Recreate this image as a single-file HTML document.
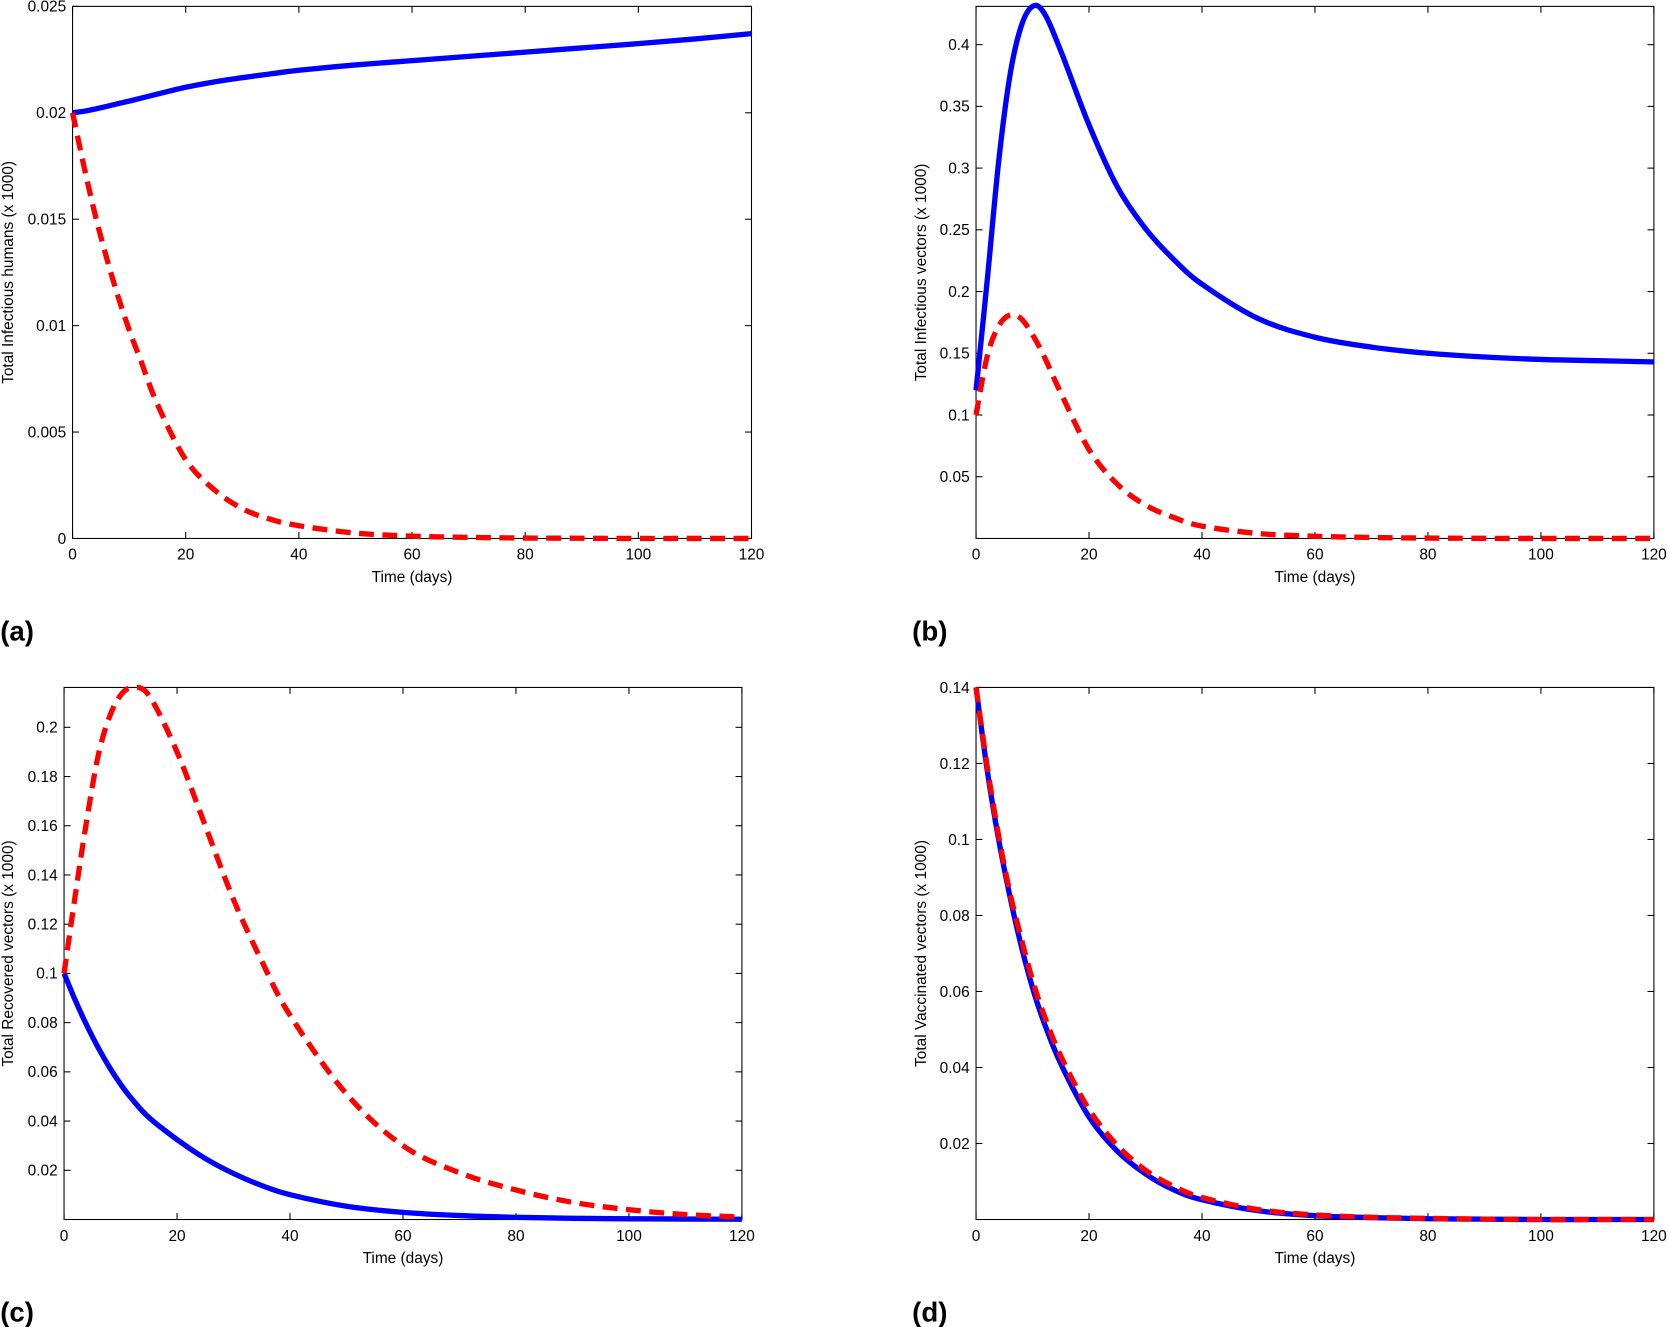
<!DOCTYPE html>
<html><head><meta charset="utf-8"><style>
html,body{margin:0;padding:0;background:#fff}
svg{display:block}
text{font-family:"Liberation Sans",Arial,sans-serif;fill:#000}
</style></head><body>
<svg id="fig" width="1669" height="1327" viewBox="0 0 1568 1247" xmlns="http://www.w3.org/2000/svg"></svg>
<script>
const T = [0,2,4,6,8,10,12,15,20,25,30,35,40,50,60,70,80,90,100,110,120];
const aBlue = [0.02,0.02007,0.02018,0.0203,0.02043,0.02055,0.02068,0.02088,0.0212,0.02145,0.02165,0.02183,0.022,0.02225,0.02245,0.02265,0.02285,0.02305,0.02325,0.02347,0.02372];
const aRed  = [0.02,0.0175,0.0152,0.0132,0.0114,0.0098,0.0084,0.0063,0.0037,0.0023,0.0014,0.0009,0.0006,0.00025,0.00011,0.00005,0.00002,0.00001,0,0,0];
const bBlue = [0.12,0.21,0.305,0.375,0.415,0.431,0.426,0.395,0.335,0.285,0.251,0.226,0.206,0.178,0.163,0.155,0.15,0.147,0.145,0.144,0.143];
const bRed  = [0.1,0.148,0.172,0.181,0.178,0.165,0.148,0.118,0.072,0.044,0.027,0.017,0.010,0.004,0.0018,0.0008,0.0003,0.0001,0,0,0];
const cBlue = [0.1,0.089,0.079,0.07,0.062,0.055,0.049,0.0415,0.0325,0.0248,0.0187,0.0138,0.0101,0.0054,0.0029,0.0016,0.0009,0.0005,0.0003,0.0002,0.0001];
const cRed  = [0.1,0.132,0.162,0.188,0.204,0.213,0.216,0.213,0.19,0.16,0.13,0.105,0.083,0.051,0.03,0.019,0.012,0.007,0.004,0.002,0.001];
const dBlue = [0.14,0.118,0.1,0.085,0.072,0.061,0.052,0.041,0.027,0.018,0.012,0.0078,0.0052,0.0023,0.001,0.0005,0.0002,0.0001,0,0,0];
const dRed  = [0.14,0.119,0.101,0.086,0.074,0.063,0.054,0.043,0.029,0.0195,0.013,0.0087,0.0058,0.0026,0.0012,0.0006,0.0003,0.0001,0,0,0];
const xTicks = [0,20,40,60,80,100,120];
const aTicks = [0,0.005,0.01,0.015,0.02,0.025];
const bTicks = [0.05,0.1,0.15,0.2,0.25,0.3,0.35,0.4];
const cTicks = [0.02,0.04,0.06,0.08,0.1,0.12,0.14,0.16,0.18,0.2];
const dTicks = [0.02,0.04,0.06,0.08,0.1,0.12,0.14];

const NS="http://www.w3.org/2000/svg", svg=document.getElementById('fig');
function el(tag,attrs,parent){const e=document.createElementNS(NS,tag);for(const k in attrs)e.setAttribute(k,attrs[k]);(parent||svg).appendChild(e);return e;}
function catmull(pts){let d='M'+pts[0][0]+','+pts[0][1];for(let i=0;i<pts.length-1;i++){const p0=pts[Math.max(0,i-1)],p1=pts[i],p2=pts[i+1],p3=pts[Math.min(pts.length-1,i+2)];
d+=' C'+(p1[0]+(p2[0]-p0[0])/6)+','+(p1[1]+(p2[1]-p0[1])/6)+' '+(p2[0]-(p3[0]-p1[0])/6)+','+(p2[1]-(p3[1]-p1[1])/6)+' '+p2[0]+','+p2[1];}return d;}

function panel(id,x0,x1,y0,y1,ymax,yTicks,ylabel,blue,red){
  const g=el('g',{});
  
  
  const sx=t=>x0+(t/120)*(x1-x0), sy=v=>y1-(v/ymax)*(y1-y0);
  el('rect',{x:x0,y:y0,width:x1-x0,height:y1-y0,fill:'none',stroke:'#000','stroke-width':1},g);
  xTicks.forEach(t=>{const x=sx(t);
    el('line',{x1:x,x2:x,y1:y1,y2:y1-6,stroke:'#000'},g);el('line',{x1:x,x2:x,y1:y0,y2:y0+6,stroke:'#000'},g);
    const tx=el('text',{x:x,y:y1+20,'font-size':14.5,'text-anchor':'middle'},g);tx.textContent=t;
    });
  yTicks.forEach(v=>{const y=sy(v);
    el('line',{x1:x0,x2:x0+6,y1:y,y2:y,stroke:'#000'},g);el('line',{x1:x1,x2:x1-6,y1:y,y2:y,stroke:'#000'},g);
    const tx=el('text',{x:x0-6,y:y+5,'font-size':14.5,'text-anchor':'end'},g);tx.textContent=v;
    });
  const xl=el('text',{x:(x0+x1)/2,y:y1+41,'font-size':14.5,'text-anchor':'middle'},g);xl.textContent='Time (days)';
  
  const lx=(id==='a'||id==='c')?12:870;
  const yl=el('text',{x:0,y:0,'font-size':14.5,'text-anchor':'middle',transform:'translate('+lx+','+(y0+y1)/2+') rotate(-90)'},g);yl.textContent=ylabel;
  
  const pl=el('text',{x:(id==='a'||id==='c')?0:857,y:y1+96,'font-size':26,'font-weight':'bold'},g);pl.textContent='('+id+')';
  
  const bp=T.map((t,i)=>[sx(t),sy(blue[i])]), rp=T.map((t,i)=>[sx(t),sy(red[i])]);
  const b=el('path',{d:catmull(bp),fill:'none',stroke:'#0000ff','stroke-width':5},g);
  
  
  const r=el('path',{d:catmull(rp),fill:'none',stroke:'#ff0000','stroke-width':5,'stroke-dasharray':'14,8'},g);
  
  
}
panel('a',68,706,6,506,0.025,aTicks,'Total Infectious humans (x 1000)',aBlue,aRed);
panel('b',917,1554,6,506,0.431,bTicks,'Total Infectious vectors (x 1000)',bBlue,bRed);
panel('c',60,697,646,1146,0.2162,cTicks,'Total Recovered vectors (x 1000)',cBlue,cRed);
panel('d',917,1554,646,1146,0.14,dTicks,'Total Vaccinated vectors (x 1000)',dBlue,dRed);
</script>
</body></html>
